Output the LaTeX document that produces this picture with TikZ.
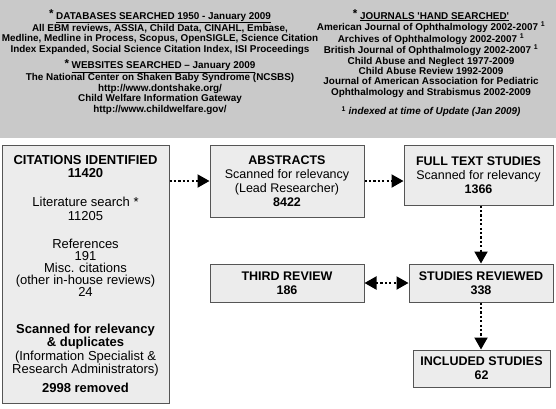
\documentclass[tikz,border=0pt]{standalone}
\usepackage{fontspec}
\setmainfont{Liberation Sans}
\usetikzlibrary{arrows.meta}
\definecolor{bannergray}{HTML}{C9C9C9}
\definecolor{boxgray}{HTML}{ECECEC}
\definecolor{edgegray}{HTML}{555555}
\newcommand{\srcstar}{\raisebox{1.5pt}{\fontsize{11.5}{11.5}\selectfont*}\ }

\begin{document}
\begin{tikzpicture}[x=1pt, y=-1pt,
    stagebox/.style={draw=edgegray, fill=boxgray, line width=1pt, rectangle, inner sep=0pt, align=center, font=\fontsize{12.5}{14}\selectfont},
    srctext/.style={anchor=north, inner sep=0pt, align=center, font=\fontsize{9.9}{10.4}\selectfont\bfseries},
    dotarrow/.style={line width=2pt, dash pattern=on 2.2pt off 2.2pt, -{Triangle[length=12pt, width=13pt]}}]
    \useasboundingbox (0,0) rectangle (556,408);
    % Sources banner
    \node[fill=bannergray, inner sep=0pt, minimum width=556pt, minimum height=138pt, anchor=north west] (banner) at (0,0) {};
    \node[srctext] (databases) at (160,9.5) {
        \srcstar\underline{DATABASES SEARCHED 1950 - January 2009}\\
        All EBM reviews, ASSIA, Child Data, CINAHL, Embase,\\
        Medline, Medline in Process, Scopus, OpenSIGLE, Science Citation\\
        Index Expanded, Social Science Citation Index, ISI Proceedings\\[4pt]
        \srcstar\underline{WEBSITES SEARCHED -- January 2009}\\
        The National Center on Shaken Baby Syndrome (NCSBS)\\
        http://www.dontshake.org/\\
        Child Welfare Information Gateway\\
        http://www.childwelfare.gov/
    };
    \node[srctext] (journals) at (431,9.5) {
        \srcstar\underline{JOURNALS \textquotesingle HAND SEARCHED\textquotesingle}\\
        American Journal of Ophthalmology 2002-2007 \textsuperscript{1}\\
        Archives of Ophthalmology 2002-2007 \textsuperscript{1}\\
        British Journal of Ophthalmology 2002-2007 \textsuperscript{1}\\
        Child Abuse and Neglect 1977-2009\\
        Child Abuse Review 1992-2009\\
        Journal of American Association for Pediatric\\
        Ophthalmology and Strabismus 2002-2009\\[8pt]
        \textsuperscript{1} \textit{indexed at time of Update (Jan 2009)}
    };

    % Nodes
    \node[stagebox, minimum width=167pt, minimum height=258pt, font=\fontsize{13}{13.5}\selectfont] (cites) at (85.5,274) {
        \textbf{CITATIONS IDENTIFIED}\\
        \textbf{11420}\\[15.5pt]
        Literature search *\\
        11205\\[14.5pt]
        References\\[-1.5pt]
        191\\[-1.5pt]
        Misc. citations\\[-1.5pt]
        (other in-house reviews)\\[-1.5pt]
        24\\[23.5pt]
        \textbf{Scanned for relevancy}\\
        \textbf{\& duplicates}\\
        (Information Specialist \&\\
        Research Administrators)\\[5pt]
        \textbf{2998 removed}
    };
    \node[stagebox, minimum width=154pt, minimum height=72pt] (abstracts) at (287,181) {\textbf{ABSTRACTS}\\ Scanned for relevancy\\ (Lead Researcher)\\ \textbf{8422}};
    \node[stagebox, minimum width=149pt, minimum height=60pt] (fulltext) at (478.5,175) {\textbf{FULL TEXT STUDIES}\\ Scanned for relevancy\\ \textbf{1366}};
    \node[stagebox, minimum width=154pt, minimum height=38pt] (third) at (287,283) {\textbf{THIRD REVIEW}\\ \textbf{186}};
    \node[stagebox, minimum width=144pt, minimum height=38pt] (reviewed) at (481,283) {\textbf{STUDIES REVIEWED}\\ \textbf{338}};
    \node[stagebox, minimum width=137pt, minimum height=37pt] (included) at (481.5,368.5) {\textbf{INCLUDED STUDIES}\\ \textbf{62}};

    % Arrows
    \draw[dotarrow] (cites.east |- abstracts.west) -- (abstracts.west);
    \draw[dotarrow] (abstracts.east) -- (abstracts.east -| fulltext.west);
    \draw[dotarrow] (fulltext.south -| reviewed.north) -- (reviewed.north);
    \draw[dotarrow, {Triangle[length=12pt, width=13pt]}-{Triangle[length=12pt, width=13pt]}] (third.east) -- (reviewed.west);
    \draw[dotarrow] (reviewed.south) -- (reviewed.south |- included.north);
\end{tikzpicture}
\end{document}
